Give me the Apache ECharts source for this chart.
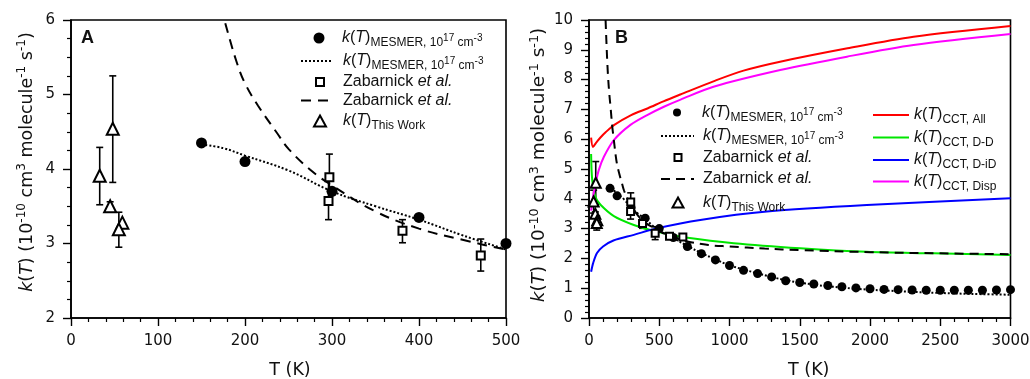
<!DOCTYPE html>
<html>
<head>
<meta charset="utf-8">
<script src="https://cdn.jsdelivr.net/npm/echarts@6/dist/echarts.min.js"></script>
<style>
  html, body { margin: 0; padding: 0; background: #fff; }
  #chart { width: 1030px; height: 379px; }
</style>
</head>
<body>
<div id="chart"></div>
<script>
// MESMER points (filled circles), T in K, k in 1e-10 cm3 molecule-1 s-1
const mesmerT = [150, 200, 300, 400, 500, 600, 700, 800, 900, 1000, 1100, 1200, 1300, 1400, 1500,
  1600, 1700, 1800, 1900, 2000, 2100, 2200, 2300, 2400, 2500, 2600, 2700, 2800, 2900, 3000];
const mesmerK = [4.35, 4.1, 3.7, 3.35, 3.0, 2.7, 2.4, 2.16, 1.95, 1.76, 1.6, 1.49, 1.38, 1.25, 1.19,
  1.14, 1.09, 1.05, 1.01, 0.98, 0.96, 0.95, 0.94, 0.93, 0.93, 0.93, 0.93, 0.93, 0.94, 0.95];

// MESMER dotted curve
const mesmerLineT = [150, 175, 200, 250, 300, 350, 400, 450, 500, 600, 700, 800, 900, 1000, 1200,
  1400, 1600, 1800, 2000, 2200, 2500, 2800, 3000];
const mesmerLineK = [4.33, 4.28, 4.18, 3.98, 3.7, 3.5, 3.32, 3.11, 2.92, 2.68, 2.42, 2.18, 1.97, 1.77, 1.5,
  1.27, 1.12, 1.02, 0.95, 0.9, 0.84, 0.8, 0.78];

// Zabarnick et al. dashed curve
const zabLineT = [118, 122, 130, 137, 145, 153, 165, 175, 190, 200, 215, 237, 250, 275, 300, 350, 400,
  450, 500, 600, 700, 850, 1000, 1250, 1500, 2000, 2500, 3000];
const zabLineK = [10, 9.5, 8.6, 8.0, 7.5, 7.1, 6.45, 6.05, 5.45, 5.15, 4.85, 4.48, 4.27, 3.99, 3.78, 3.43, 3.2,
  3.05, 2.92, 2.72, 2.57, 2.45, 2.4, 2.33, 2.28, 2.21, 2.17, 2.14];

// Zabarnick et al. points (open squares) with error bars
const zabT = [297, 296, 381, 471, 573, 668];
const zabK = [3.89, 3.57, 3.17, 2.84, 2.74, 2.72];
const zabLo = [3.58, 3.32, 3.01, 2.63, null, null];
const zabHi = [4.2, 3.86, 3.32, 3.06, null, null];

// This work (open triangles) with error bars
const thisT = [33, 48, 45, 59, 55];
const thisK = [3.91, 4.54, 3.5, 3.28, 3.19];
const thisLo = [3.52, 3.82, 3.45, null, 2.95];
const thisHi = [4.29, 5.25, 3.56, null, 3.42];

// CCT curves (panel B)
const allT = [15, 28, 50, 80, 120, 180, 300, 420, 530, 650, 890, 1100, 1360, 1840, 2310, 3000];
const allK = [6.05, 5.74, 5.88, 6.05, 6.24, 6.48, 6.81, 7.04, 7.27, 7.5, 7.95, 8.3, 8.6, 9.05, 9.44, 9.8];
const ddT = [15, 23, 47, 82, 177, 319, 437, 556, 675, 1030, 1504, 1978, 2452, 3000];
const ddK = [5.5, 4.63, 4.05, 3.8, 3.42, 3.12, 2.95, 2.82, 2.71, 2.51, 2.34, 2.22, 2.17, 2.11];
const didT = [15, 30, 57, 100, 174, 319, 485, 792, 1266, 1978, 3000];
const didK = [1.55, 1.85, 2.18, 2.4, 2.6, 2.79, 3.01, 3.29, 3.57, 3.79, 4.02];
const dispT = [15, 30, 47, 70, 106, 177, 295, 414, 533, 652, 886, 1361, 1836, 2310, 3000];
const dispK = [3.6, 4.1, 4.52, 4.97, 5.41, 5.97, 6.48, 6.81, 7.09, 7.33, 7.76, 8.32, 8.77, 9.16, 9.53];

const FONT = '"Liberation Sans", Arial, sans-serif';
const AXFONT = '"DejaVu Sans", "Liberation Sans", sans-serif';

const zip = (xs, ys) => xs.map((x, i) => [x, ys[i]]);
const upTo = (pts, max) => pts.filter(p => p[0] <= max);
const bars = (xs, ys, lo, hi, max) =>
  xs.map((x, i) => [x, lo[i], hi[i], ys[i]]).filter(p => p[1] != null && p[0] <= max);

function errRender(params, api) {
  const x = api.value(0);
  const p1 = api.coord([x, api.value(1)]);
  const p2 = api.coord([x, api.value(2)]);
  const w = 3.5;
  const st = { stroke: '#000', lineWidth: 1.6 };
  return {
    type: 'group',
    children: [
      { type: 'line', shape: { x1: p1[0], y1: p1[1], x2: p2[0], y2: p2[1] }, style: st },
      { type: 'line', shape: { x1: p1[0] - w, y1: p1[1], x2: p1[0] + w, y2: p1[1] }, style: st },
      { type: 'line', shape: { x1: p2[0] - w, y1: p2[1], x2: p2[0] + w, y2: p2[1] }, style: st }
    ]
  };
}

const rich = {
  i: { fontFamily: FONT, fontSize: 16, fontStyle: 'italic', lineHeight: 22, verticalAlign: 'middle', color: '#111' },
  p: { fontFamily: FONT, fontSize: 16, lineHeight: 22, verticalAlign: 'middle', color: '#111' },
  sub: { fontFamily: FONT, fontSize: 12, lineHeight: 12.6, verticalAlign: 'bottom', color: '#111' },
  sup: { fontFamily: FONT, fontSize: 10, lineHeight: 18, verticalAlign: 'middle', color: '#111' }
};

const kT = '{i|k}{p|(}{i|T}{p|)}';
const mesLabel = kT + '{sub|MESMER, 10}{sup|17}{sub| cm}{sup|-3}';
const zabLabel = '{p|Zabarnick }{i|et al.}';
const labels = {
  mesA: mesLabel, mesLineA: mesLabel, zabA: zabLabel, zabLineA: zabLabel,
  thisA: kT + '{sub|This Work}',
  mesB: mesLabel, mesLineB: mesLabel, zabB: zabLabel, zabLineB: zabLabel,
  thisB: kT + '{sub|This Work}',
  allB: kT + '{sub|CCT, All}',
  ddB: kT + '{sub|CCT, D-D}',
  didB: kT + '{sub|CCT, D-iD}',
  dispB: kT + '{sub|CCT, Disp}'
};

// left: icon box left, cy: row centre, w/h: icon box, textX: where the label starts
function legendRow(name, left, cy, w, h, textX, isLine) {
  const gap = textX - (left + w + 5);
  const row = {
    left: left, top: cy - 11, padding: 0,
    orient: 'horizontal',
    itemWidth: w, itemHeight: h,
    selectedMode: false,
    data: [name],
    formatter: n => (gap > 0 ? '{g| }' : '') + labels[n],
    textStyle: {
      fontFamily: FONT, fontSize: 16, lineHeight: 22, color: '#111',
      rich: Object.assign({}, rich, { g: { width: gap, lineHeight: 22, fontSize: 16 } })
    }
  };
  if (isLine) row.itemStyle = { color: 'rgba(0,0,0,0)', borderWidth: 0, opacity: 0 };
  return row;
}

const axisLineStyle = { show: true, lineStyle: { color: '#000', width: 1.6 } };
const tickStyle = { show: true, inside: false, length: 8, lineStyle: { color: '#000', width: 1.4 } };
const minorStyle = (n) => ({ show: true, splitNumber: n, length: 4, lineStyle: { color: '#000', width: 1.2 } });
const labelStyle = (m) => ({ fontFamily: AXFONT, fontSize: 15, color: '#111', margin: m, formatter: v => String(v) });
const yName = '{g| }{i|k}({i|T}) (10{s|-10} cm{s|3} molecule{s|-1} s{s|-1})';
const yNameStyle = (g, fs) => ({
  fontFamily: AXFONT, fontSize: fs, lineHeight: 22, color: '#111',
  rich: {
    g: { width: g, fontSize: fs, lineHeight: 22 },
    i: { fontFamily: AXFONT, fontSize: fs, fontStyle: 'italic', lineHeight: 22, color: '#111' },
    s: { fontFamily: AXFONT, fontSize: fs * 0.69, lineHeight: 13.5, verticalAlign: 'top', color: '#111' }
  }
});
const xNameStyle = (g) => ({
  fontFamily: AXFONT, fontSize: 17.5, color: '#111',
  rich: { g: { width: g, fontSize: 17.5 }, t: { fontFamily: AXFONT, fontSize: 17.5, color: '#111' } }
});

const chart = echarts.init(document.getElementById('chart'), null, { renderer: 'canvas' });

const option = {
  animation: false,
  backgroundColor: '#fff',
  title: [
    { text: 'A', left: 81, top: 29, padding: 0, textStyle: { fontFamily: FONT, fontSize: 18, fontWeight: 'bold', color: '#111' } },
    { text: 'B', left: 615, top: 29, padding: 0, textStyle: { fontFamily: FONT, fontSize: 18, fontWeight: 'bold', color: '#111' } }
  ],
  grid: [
    { left: 71, top: 20, width: 435, height: 298, show: true, borderColor: '#000', borderWidth: 1.6, backgroundColor: 'transparent', outerBoundsMode: 'none' },
    { left: 589, top: 20, width: 421.5, height: 298, show: true, borderColor: '#000', borderWidth: 1.6, backgroundColor: 'transparent', outerBoundsMode: 'none' }
  ],
  xAxis: [
    {
      gridIndex: 0, type: 'value', min: 0, max: 500, interval: 100,
      name: '{g| }{t|T (K)}', nameLocation: 'middle', nameGap: 43,
      nameTextStyle: xNameStyle(3),
      axisLine: axisLineStyle, axisTick: tickStyle, minorTick: minorStyle(5),
      axisLabel: labelStyle(16), splitLine: { show: false }, minorSplitLine: { show: false }
    },
    {
      gridIndex: 1, type: 'value', min: 0, max: 3000, interval: 500,
      name: '{g| }{t|T (K)}', nameLocation: 'middle', nameGap: 43,
      nameTextStyle: xNameStyle(18),
      axisLine: axisLineStyle, axisTick: tickStyle, minorTick: minorStyle(5),
      axisLabel: labelStyle(16), splitLine: { show: false }, minorSplitLine: { show: false }
    }
  ],
  yAxis: [
    {
      gridIndex: 0, type: 'value', min: 2, max: 6, interval: 1,
      name: yName, nameLocation: 'middle', nameGap: 33, nameTextStyle: yNameStyle(14, 17.5),
      axisLine: axisLineStyle, axisTick: tickStyle, minorTick: minorStyle(4),
      axisLabel: labelStyle(16), splitLine: { show: false }, minorSplitLine: { show: false }
    },
    {
      gridIndex: 1, type: 'value', min: 0, max: 10, interval: 1,
      name: yName, nameLocation: 'middle', nameGap: 36, nameTextStyle: yNameStyle(8, 18.5),
      axisLine: axisLineStyle, axisTick: tickStyle, minorTick: minorStyle(5),
      axisLabel: labelStyle(16), splitLine: { show: false }, minorSplitLine: { show: false }
    }
  ],
  legend: [
    legendRow('mesA', 313.5, 38, 11, 11, 342, false),
    legendRow('mesLineA', 300, 61, 30, 10, 342, true),
    legendRow('zabA', 315, 82, 8, 8, 342, false),
    legendRow('zabLineA', 300, 100.5, 30, 10, 342, true),
    legendRow('thisA', 313, 121, 12, 11, 342, false),
    legendRow('mesB', 673, 112.5, 8, 8, 702, false),
    legendRow('mesLineB', 660, 136, 33, 10, 702, true),
    legendRow('zabB', 673.5, 157.5, 7, 7, 702, false),
    legendRow('zabLineB', 660, 179, 33, 10, 702, true),
    legendRow('thisB', 671.5, 202.5, 11, 10, 702, false),
    legendRow('allB', 872, 115, 36, 10, 913, true),
    legendRow('ddB', 872, 137.5, 36, 10, 913, true),
    legendRow('didB', 872, 160, 36, 10, 913, true),
    legendRow('dispB', 872, 181.5, 36, 10, 913, true)
  ],
  series: [
    // ---- panel A ----
    {
      name: 'zabLineA', type: 'line', xAxisIndex: 0, yAxisIndex: 0, symbol: 'none', smooth: 0.4,
      data: zip(zabLineT, zabLineK), lineStyle: { color: '#000', width: 2, type: [10, 7] }, itemStyle: { color: '#000' }
    },
    {
      name: 'mesLineA', type: 'line', xAxisIndex: 0, yAxisIndex: 0, symbol: 'none', smooth: 0.4,
      data: upTo(zip(mesmerLineT, mesmerLineK), 500), lineStyle: { color: '#000', width: 2, type: [2, 2] }, itemStyle: { color: '#000' }
    },
    {
      type: 'custom', xAxisIndex: 0, yAxisIndex: 0, renderItem: errRender,
      data: bars(zabT, zabK, zabLo, zabHi, 500), z: 3
    },
    {
      type: 'custom', xAxisIndex: 0, yAxisIndex: 0, renderItem: errRender,
      data: bars(thisT, thisK, thisLo, thisHi, 500), z: 3
    },
    {
      name: 'mesA', type: 'scatter', xAxisIndex: 0, yAxisIndex: 0, symbol: 'circle', symbolSize: 11,
      data: upTo(zip(mesmerT, mesmerK), 500), itemStyle: { color: '#000', opacity: 1 }, z: 4
    },
    {
      name: 'zabA', type: 'scatter', xAxisIndex: 0, yAxisIndex: 0, symbol: 'rect', symbolSize: 8,
      data: upTo(zip(zabT, zabK), 500), itemStyle: { color: '#fff', borderColor: '#000', borderWidth: 2, opacity: 1 }, z: 4
    },
    {
      name: 'thisA', type: 'scatter', xAxisIndex: 0, yAxisIndex: 0, symbol: 'triangle', symbolSize: 12,
      data: upTo(zip(thisT, thisK), 500), itemStyle: { color: '#fff', borderColor: '#000', borderWidth: 2, opacity: 1 }, z: 4
    },
    // ---- panel B ----
    {
      name: 'allB', type: 'line', xAxisIndex: 1, yAxisIndex: 1, symbol: 'none', smooth: 0.3,
      data: zip(allT, allK), lineStyle: { color: '#ff0000', width: 2 }, itemStyle: { color: '#ff0000' }
    },
    {
      name: 'ddB', type: 'line', xAxisIndex: 1, yAxisIndex: 1, symbol: 'none', smooth: 0.3,
      data: zip(ddT, ddK), lineStyle: { color: '#00e600', width: 2 }, itemStyle: { color: '#00e600' }
    },
    {
      name: 'didB', type: 'line', xAxisIndex: 1, yAxisIndex: 1, symbol: 'none', smooth: 0.3,
      data: zip(didT, didK), lineStyle: { color: '#0000ff', width: 2 }, itemStyle: { color: '#0000ff' }
    },
    {
      name: 'dispB', type: 'line', xAxisIndex: 1, yAxisIndex: 1, symbol: 'none', smooth: 0.3,
      data: zip(dispT, dispK), lineStyle: { color: '#ff00ff', width: 2 }, itemStyle: { color: '#ff00ff' }
    },
    {
      name: 'zabLineB', type: 'line', xAxisIndex: 1, yAxisIndex: 1, symbol: 'none', smooth: 0.4,
      data: zip(zabLineT, zabLineK), lineStyle: { color: '#000', width: 2, type: [9, 6] }, itemStyle: { color: '#000' }
    },
    {
      name: 'mesLineB', type: 'line', xAxisIndex: 1, yAxisIndex: 1, symbol: 'none', smooth: 0.4,
      data: zip(mesmerLineT, mesmerLineK), lineStyle: { color: '#000', width: 2, type: [2, 2] }, itemStyle: { color: '#000' }
    },
    {
      type: 'custom', xAxisIndex: 1, yAxisIndex: 1, renderItem: errRender,
      data: bars(zabT, zabK, zabLo, zabHi, 3000), z: 3
    },
    {
      type: 'custom', xAxisIndex: 1, yAxisIndex: 1, renderItem: errRender,
      data: bars(thisT, thisK, thisLo, thisHi, 3000), z: 3
    },
    {
      name: 'mesB', type: 'scatter', xAxisIndex: 1, yAxisIndex: 1, symbol: 'circle', symbolSize: 9,
      data: zip(mesmerT, mesmerK), itemStyle: { color: '#000', opacity: 1 }, z: 4
    },
    {
      name: 'zabB', type: 'scatter', xAxisIndex: 1, yAxisIndex: 1, symbol: 'rect', symbolSize: 7,
      data: zip(zabT, zabK), itemStyle: { color: '#fff', borderColor: '#000', borderWidth: 2, opacity: 1 }, z: 4
    },
    {
      name: 'thisB', type: 'scatter', xAxisIndex: 1, yAxisIndex: 1, symbol: 'triangle', symbolSize: 10,
      data: zip(thisT, thisK), itemStyle: { color: '#fff', borderColor: '#000', borderWidth: 2, opacity: 1 }, z: 4
    }
  ]
};

chart.setOption(option);
window.addEventListener('resize', () => chart.resize());
</script>
</body>
</html>
